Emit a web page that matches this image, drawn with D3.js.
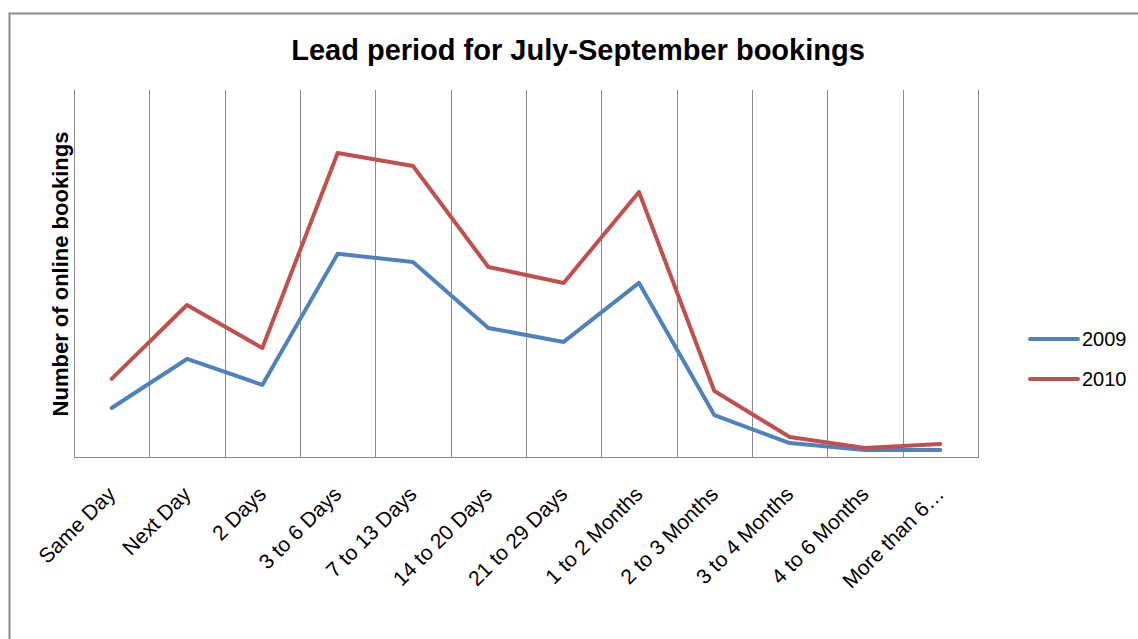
<!DOCTYPE html>
<html>
<head>
<meta charset="utf-8">
<script src="https://cdn.jsdelivr.net/npm/d3@7"></script>
<style>
  body { margin: 0; background: #fff; }
  text { font-family: "Liberation Sans", Arial, sans-serif; fill: #000; }
</style>
</head>
<body>
<div id="chart-area"></div>
<script>
// Data
const categories = ["Same Day", "Next Day", "2 Days", "3 to 6 Days", "7 to 13 Days", "14 to 20 Days",
  "21 to 29 Days", "1 to 2 Months", "2 to 3 Months", "3 to 4 Months", "4 to 6 Months", "More than 6 Months"];
const values2009 = [187, 374, 275, 775, 744, 492, 439, 664, 160, 53, 27, 27];
const values2010 = [298, 580, 416, 1160, 1110, 725, 664, 1011, 252, 76, 34, 50];
const seriesNames = ["2009", "2010"];
const seriesColors = ["#4F81BD", "#C0504D"];

// Dimensions
const W = 1138, H = 639;
const plot = { left: 74, right: 978, top: 90, bottom: 457 };

const svg = d3.select("#chart-area")
  .append("svg")
    .attr("width", W)
    .attr("height", H);

// outer chart border
svg.append("rect")
  .attr("x", 9.5).attr("y", 13.5)
  .attr("width", W + 10).attr("height", H + 10)
  .attr("fill", "none")
  .attr("stroke", "#8c8c8c")
  .attr("stroke-width", 2);

// Scales
const x = d3.scaleBand()
  .domain(categories)
  .range([plot.left, plot.right]);
const y = d3.scaleLinear()
  .domain([0, 1400])
  .range([plot.bottom, plot.top]);

// vertical gridlines at category boundaries
const bounds = categories.map(c => x(c)).concat([plot.right]);
svg.append("g")
  .selectAll("line")
  .data(bounds)
  .join("line")
    .attr("x1", d => Math.round(d) + 0.5)
    .attr("x2", d => Math.round(d) + 0.5)
    .attr("y1", plot.top)
    .attr("y2", plot.bottom)
    .attr("stroke", "#8a8a8a")
    .attr("stroke-width", 1);

// bottom axis
const xAxis = svg.append("g")
  .attr("transform", "translate(0," + (plot.bottom + 0.5) + ")")
  .call(d3.axisBottom(x).tickSize(0).tickPadding(0)
    .tickFormat(d => d === "More than 6 Months" ? "More than 6\u2026" : d));
xAxis.select(".domain").attr("stroke", "#8a8a8a").attr("d", "M" + plot.left + ",0H" + (plot.right + 1));
xAxis.selectAll("text")
  .attr("font-size", "21px")
  .attr("text-anchor", "end")
  .attr("dy", 0)
  .attr("y", 0)
  .attr("transform", "translate(5,38) rotate(-45)");

// Lines
const line = d3.line()
  .x((d, i) => x(categories[i]) + x.bandwidth() / 2)
  .y(d => y(d));

[values2009, values2010].forEach((vals, i) => {
  svg.append("path")
    .datum(vals)
    .attr("d", line)
    .attr("fill", "none")
    .attr("stroke", seriesColors[i])
    .attr("stroke-width", 4)
    .attr("stroke-linejoin", "round")
    .attr("stroke-linecap", "round");
});

// Title
svg.append("text")
  .attr("x", 578)
  .attr("y", 60)
  .attr("text-anchor", "middle")
  .attr("font-size", "29px")
  .attr("font-weight", "bold")
  .text("Lead period for July-September bookings");

// Y label
svg.append("text")
  .attr("transform", "translate(68," + 274 + ") rotate(-90)")
  .attr("text-anchor", "middle")
  .attr("font-size", "22px")
  .attr("font-weight", "bold")
  .text("Number of online bookings");

// Legend
const legend = svg.append("g");
seriesNames.forEach((name, i) => {
  const row = legend.append("g")
    .attr("transform", "translate(1030," + (339 + i * 40) + ")");
  row.append("line")
    .attr("x1", 0).attr("x2", 48)
    .attr("stroke", seriesColors[i])
    .attr("stroke-width", 4)
    .attr("stroke-linecap", "round");
  row.append("text")
    .attr("x", 52)
    .attr("y", 7)
    .attr("font-size", "20px")
    .text(name);
});
</script>
</body>
</html>
